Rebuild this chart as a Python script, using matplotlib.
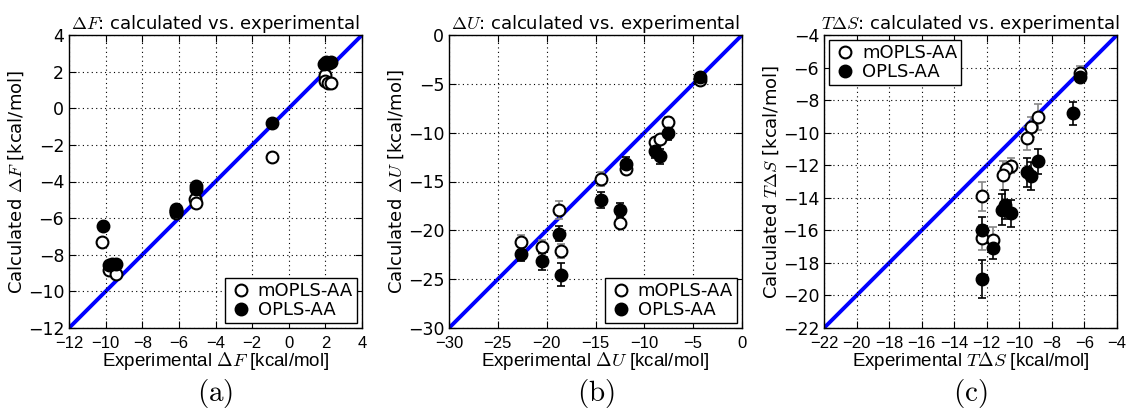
import matplotlib
matplotlib.use("Agg")
import matplotlib.pyplot as plt
import numpy as np

plt.rcParams['mathtext.fontset'] = 'cm'
plt.rcParams['font.family'] = ['DejaVu Sans']

# ---------------- Panel (a): Delta F ----------------
a_m_exp = [-10.18, -9.81, -9.45, -6.17, -6.17, -5.13, -5.08, -0.89, 2.00, 1.97, 2.12, 2.33]
a_m_calc = [-7.33, -8.85, -9.05, -5.73, -5.62, -4.95, -5.15, -2.64, 1.82, 1.49, 1.36, 1.36]
a_o_exp = [-10.15, -9.81, -9.65, -9.45, -6.17, -6.17, -5.08, -5.08, -0.89, 1.95, 2.05, 2.20, 2.30]
a_o_calc = [-6.43, -8.58, -8.52, -8.49, -5.49, -5.60, -4.22, -4.42, -0.82, 2.40, 2.50, 2.45, 2.50]

# ---------------- Panel (b): Delta U ----------------
b_m_exp = [-22.59, -20.48, -18.77, -18.50, -14.40, -12.53, -11.91, -8.91, -8.36, -7.61, -4.33]
b_m_calc = [-21.24, -21.72, -17.93, -22.13, -14.76, -19.23, -13.74, -10.94, -10.64, -8.86, -4.60]
b_m_err = [0.75, 0.70, 0.90, 0.70, 0.75, 0.30, 0.40, 0.30, 0.30, 0.50, 0.30]
b_o_exp = [-22.59, -20.48, -18.77, -18.50, -14.40, -12.53, -11.91, -8.91, -8.36, -7.61, -4.33]
b_o_calc = [-22.43, -23.18, -20.35, -24.55, -16.91, -17.90, -13.19, -11.86, -12.44, -9.99, -4.33]
b_o_err = [0.70, 0.85, 0.75, 1.20, 0.80, 0.70, 0.70, 0.70, 0.75, 0.75, 0.30]

# ---------------- Panel (c): T Delta S ----------------
c_m_exp = [-6.28, -8.84, -9.27, -9.52, -10.52, -10.83, -11.02, -12.31, -12.29, -11.59]
c_m_calc = [-6.31, -9.03, -9.66, -10.34, -12.02, -12.26, -12.63, -13.92, -16.45, -16.58]
c_m_err = [0.40, 0.80, 0.60, 0.70, 0.45, 0.40, 0.90, 0.90, 0.75, 0.80]
c_o_exp = [-6.28, -6.71, -8.88, -9.27, -9.52, -10.52, -11.04, -10.87, -12.31, -11.59, -12.31]
c_o_calc = [-6.60, -8.81, -11.77, -12.65, -12.43, -14.96, -14.73, -14.43, -15.96, -17.09, -18.99]
c_o_err = [0.30, 0.70, 0.75, 0.85, 0.90, 0.85, 0.95, 0.90, 0.80, 0.70, 1.15]

panels = [
    dict(lim=(-12, 4), step=2, sym=r'\Delta F', m=(a_m_exp, a_m_calc, None),
         o=(a_o_exp, a_o_calc, None), loc='lower right', sub='(a)'),
    dict(lim=(-30, 0), step=5, sym=r'\Delta U', m=(b_m_exp, b_m_calc, b_m_err),
         o=(b_o_exp, b_o_calc, b_o_err), loc='lower right', sub='(b)'),
    dict(lim=(-22, -4), step=2, sym=r'T\Delta S', m=(c_m_exp, c_m_calc, c_m_err),
         o=(c_o_exp, c_o_calc, c_o_err), loc='upper left', sub='(c)'),
]

fig = plt.figure(figsize=(11.33, 4.12), dpi=100)
lefts = [69, 449, 824]
W = 1133.0
H = 412.0
narrow = ['Liberation Sans', 'DejaVu Sans']

for left, p in zip(lefts, panels):
    ax = fig.add_axes([left / W, (H - 328) / H, 293 / W, 293 / H])
    lo, hi = p['lim']
    ax.plot([lo, hi], [lo, hi], color='#0000ff', lw=2.8, zorder=1)
    mx, my, me = p['m']
    ox, oy, oe = p['o']
    ms = 8.5
    if me is not None:
        ax.errorbar(mx, my, yerr=me, fmt='none', ecolor='#888888', elinewidth=1.2,
                    capsize=3, capthick=1.2, zorder=2)
        ax.errorbar(ox, oy, yerr=oe, fmt='none', ecolor='black', elinewidth=1.2,
                    capsize=3, capthick=1.2, zorder=2)
    ax.plot(mx, my, 'o', mfc='white', mec='black', mew=1.5, ms=ms, ls='none',
            label='mOPLS-AA', zorder=3)
    ax.plot(ox, oy, 'o', mfc='black', mec='black', mew=1.5, ms=ms, ls='none',
            label='OPLS-AA', zorder=4)
    ax.set_xlim(lo, hi)
    ax.set_ylim(lo, hi)
    ticks = np.arange(lo, hi + 0.1, p['step'])
    ax.set_xticks(ticks)
    ax.set_yticks(ticks)
    ax.grid(True, color='black', ls=(0, (1, 3)), lw=0.8)
    ax.tick_params(direction='in', top=True, right=True, length=5, labelsize=12.5)
    ax.tick_params(axis='x', pad=6)
    for lab in ax.get_xticklabels():
        lab.set_family(narrow)
        lab.set_fontsize(12)
    ax.set_title('$%s$: calculated vs. experimental' % p['sym'], fontsize=13, pad=4)
    ax.set_ylabel('Calculated $%s$ [kcal/mol]' % p['sym'], fontsize=13, labelpad=1)
    ax.set_xlabel('Experimental $%s$ [kcal/mol]' % p['sym'], fontsize=13.5,
                  family=narrow, labelpad=-1)
    leg = ax.legend(loc=p['loc'], numpoints=1, fontsize=13, fancybox=False,
                    framealpha=1, edgecolor='black', borderpad=0.2, labelspacing=0.05,
                    handletextpad=0.3, handlelength=1.3, borderaxespad=0.3)
    leg.get_frame().set_linewidth(1.0)
    for s in ax.spines.values():
        s.set_linewidth(1.0)
    fig.text((left + 146.5) / W, 1 - 393 / H, r'$\mathrm{%s}$' % p['sub'],
             ha='center', va='center', fontsize=21)

fig.savefig('out.png', dpi=100)
